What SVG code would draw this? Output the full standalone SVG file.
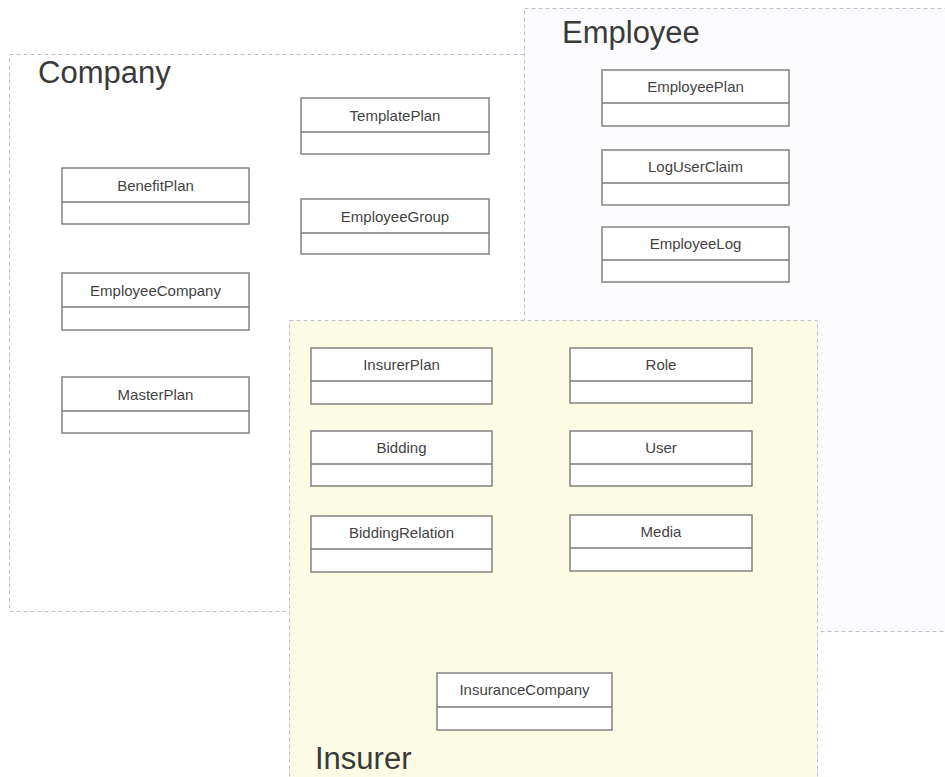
<svg xmlns="http://www.w3.org/2000/svg" width="945" height="777" viewBox="0 0 945 777">
<style>
.frame{stroke:#b9c3cf;stroke-width:1;stroke-dasharray:4 3}
.ftitle{font-family:"Liberation Sans",Arial,sans-serif;font-size:31px;fill:#3a3a3a}
.box{fill:#fff;stroke:#7a7a7a;stroke-width:1.4}
.div{stroke:#7a7a7a;stroke-width:1.4}
.lbl{font-family:"Liberation Sans",Arial,sans-serif;font-size:15px;fill:#444;text-anchor:middle}
</style>
<rect width="945" height="777" fill="#fff"/>
<g id="frame-company">
<rect class="frame" x="9.5" y="54.5" width="560" height="557" fill="#fff"/>
<text class="ftitle" x="38" y="83">Company</text>
</g>
<g id="frame-employee">
<rect class="frame" x="524.5" y="8.5" width="430" height="623" fill="#fcfbfd"/>
<text class="ftitle" x="562" y="43">Employee</text>
</g>
<g id="frame-insurer">
<rect class="frame" x="289.5" y="320.5" width="528" height="470" fill="#fcfce4"/>
<text class="ftitle" x="315" y="769">Insurer</text>
</g>
<g id="BenefitPlan"><rect class="box" x="62" y="168" width="187" height="56"/><line class="div" x1="62" y1="202" x2="249" y2="202"/><text class="lbl" x="155.5" y="191">BenefitPlan</text></g>
<g id="EmployeeCompany"><rect class="box" x="62" y="273" width="187" height="57"/><line class="div" x1="62" y1="307" x2="249" y2="307"/><text class="lbl" x="155.5" y="296">EmployeeCompany</text></g>
<g id="MasterPlan"><rect class="box" x="62" y="377" width="187" height="56"/><line class="div" x1="62" y1="411" x2="249" y2="411"/><text class="lbl" x="155.5" y="400">MasterPlan</text></g>
<g id="TemplatePlan"><rect class="box" x="301" y="98" width="188" height="56"/><line class="div" x1="301" y1="132" x2="489" y2="132"/><text class="lbl" x="395" y="121">TemplatePlan</text></g>
<g id="EmployeeGroup"><rect class="box" x="301" y="199" width="188" height="55"/><line class="div" x1="301" y1="233" x2="489" y2="233"/><text class="lbl" x="395" y="222">EmployeeGroup</text></g>
<g id="EmployeePlan"><rect class="box" x="602" y="70" width="187" height="56"/><line class="div" x1="602" y1="103" x2="789" y2="103"/><text class="lbl" x="695.5" y="92">EmployeePlan</text></g>
<g id="LogUserClaim"><rect class="box" x="602" y="150" width="187" height="55"/><line class="div" x1="602" y1="183" x2="789" y2="183"/><text class="lbl" x="695.5" y="172">LogUserClaim</text></g>
<g id="EmployeeLog"><rect class="box" x="602" y="227" width="187" height="55"/><line class="div" x1="602" y1="260" x2="789" y2="260"/><text class="lbl" x="695.5" y="249">EmployeeLog</text></g>
<g id="InsurerPlan"><rect class="box" x="311" y="348" width="181" height="56"/><line class="div" x1="311" y1="381" x2="492" y2="381"/><text class="lbl" x="401.5" y="370">InsurerPlan</text></g>
<g id="Bidding"><rect class="box" x="311" y="431" width="181" height="55"/><line class="div" x1="311" y1="464" x2="492" y2="464"/><text class="lbl" x="401.5" y="453">Bidding</text></g>
<g id="BiddingRelation"><rect class="box" x="311" y="516" width="181" height="56"/><line class="div" x1="311" y1="549" x2="492" y2="549"/><text class="lbl" x="401.5" y="538">BiddingRelation</text></g>
<g id="Role"><rect class="box" x="570" y="348" width="182" height="55"/><line class="div" x1="570" y1="381" x2="752" y2="381"/><text class="lbl" x="661" y="370">Role</text></g>
<g id="User"><rect class="box" x="570" y="431" width="182" height="55"/><line class="div" x1="570" y1="464" x2="752" y2="464"/><text class="lbl" x="661" y="453">User</text></g>
<g id="Media"><rect class="box" x="570" y="515" width="182" height="56"/><line class="div" x1="570" y1="548" x2="752" y2="548"/><text class="lbl" x="661" y="537">Media</text></g>
<g id="InsuranceCompany"><rect class="box" x="437" y="673" width="175" height="57"/><line class="div" x1="437" y1="707" x2="612" y2="707"/><text class="lbl" x="524.5" y="695">InsuranceCompany</text></g>
<g id="connectors"></g>
</svg>
